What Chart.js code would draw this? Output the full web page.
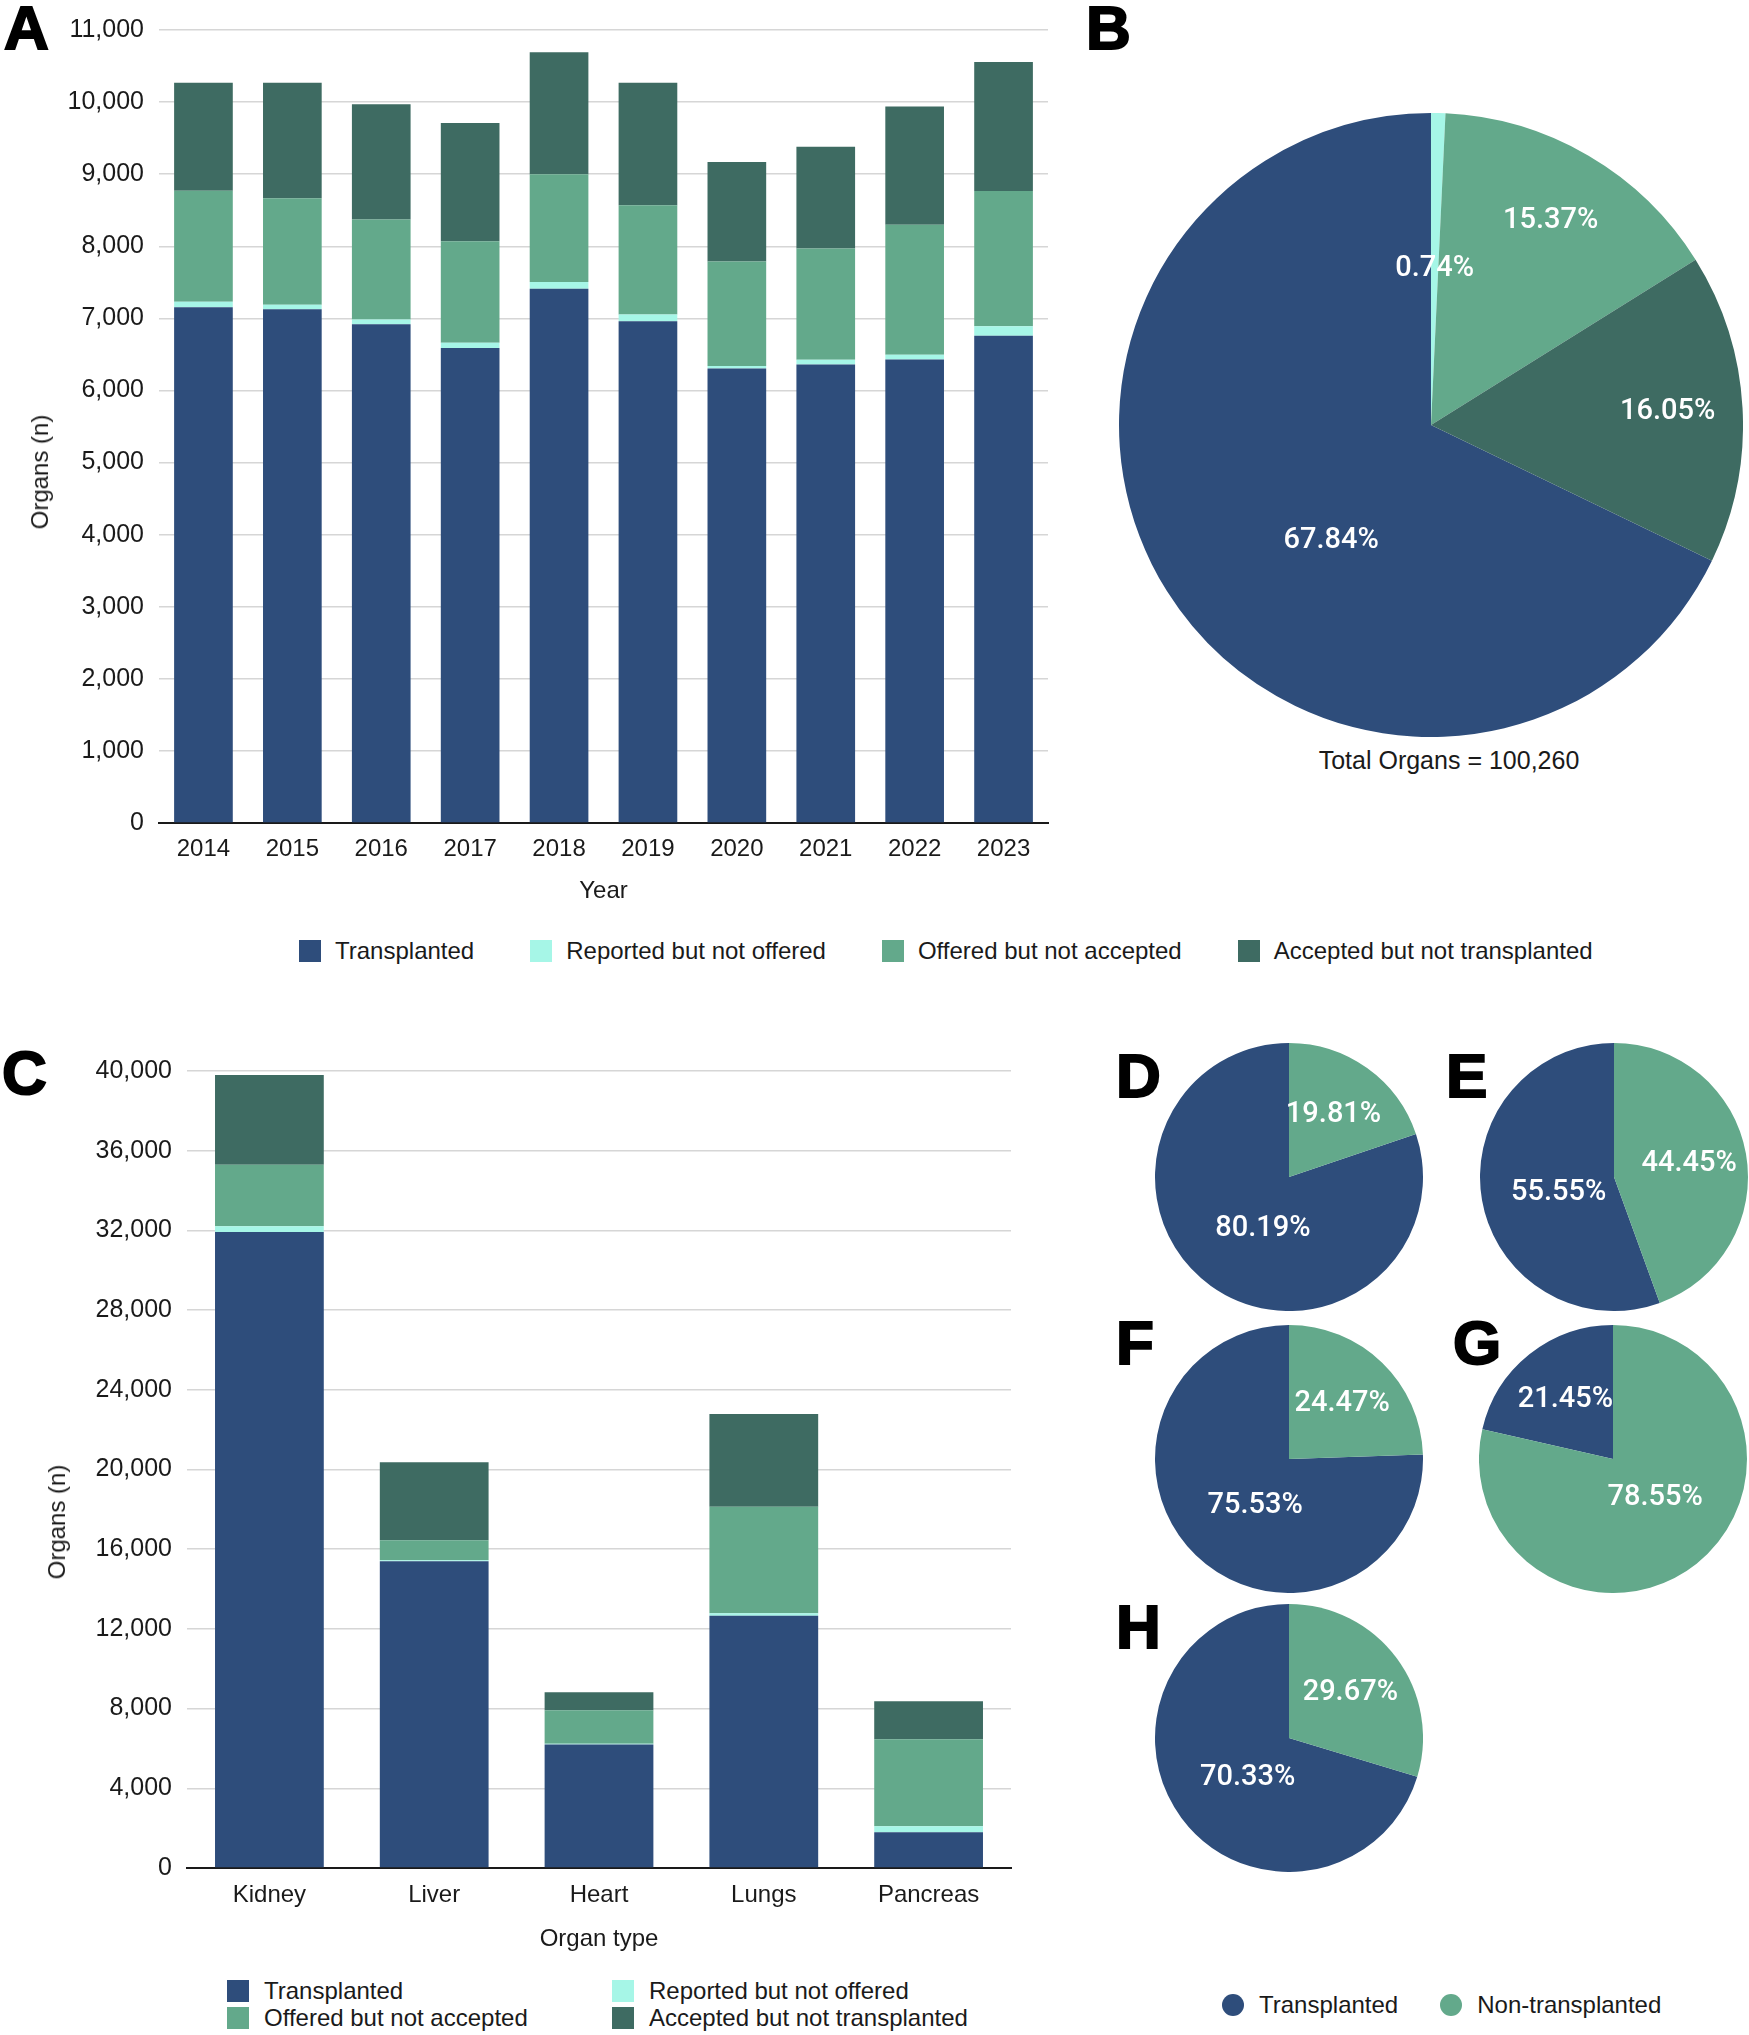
<!DOCTYPE html>
<html lang="en">
<head>
<meta charset="UTF-8">
<title>Organs reported, offered, accepted and transplanted</title>
<script src="https://cdn.jsdelivr.net/npm/chart.js"></script>
<style>
  body { margin: 0; background: #fff; font-family: "Liberation Sans", Arial, sans-serif; color: #1a1a1a; }
  #page { position: relative; width: 1749px; height: 2035px; overflow: hidden; }
  .box { position: absolute; }
  .letter { position: absolute; font-weight: bold; font-size: 62px; line-height: 1; color: #000; -webkit-text-stroke: 2px #000; }
  .ytitle { position: absolute; font-size: 24px; white-space: nowrap; transform: translate(-50%, -50%) rotate(-90deg); }
  .note { position: absolute; font-size: 25px; white-space: nowrap; transform: translate(-50%, -50%); }
  .legend { position: absolute; display: flex; align-items: center; font-size: 24px; }
  .legend .item { display: flex; align-items: center; }
  .sw { width: 22px; height: 22px; flex: none; }
  .dot { width: 22px; height: 22px; border-radius: 50%; flex: none; }
  #legC { position: absolute; display: grid; grid-template-columns: 385px auto; row-gap: 5px; font-size: 24px; line-height: 22px; }
  #legC .item { display: flex; align-items: center; }
</style>
</head>
<body>
<div id="page">
  <div class="letter" style="left:4px; top:-3px;">A</div>
  <div class="letter" style="left:1086px; top:-3px;">B</div>
  <div class="letter" style="left:2px; top:1042px;">C</div>
  <div class="letter" style="left:1116px; top:1045px;">D</div>
  <div class="letter" style="left:1446px; top:1045px;">E</div>
  <div class="letter" style="left:1116px; top:1312px;">F</div>
  <div class="letter" style="left:1453px; top:1312px;">G</div>
  <div class="letter" style="left:1116px; top:1596px;">H</div>

  <div class="box" style="left:0; top:0; width:1060px; height:910px;"><canvas id="chartA"></canvas></div>
  <div class="ytitle" style="left:40px; top:472px;">Organs (n)</div>

  <div class="legend" id="legA" style="left:299px; top:937px; gap:56px;"></div>

  <div class="box" style="left:1119px; top:113px; width:624px; height:624px;"><canvas id="chartB"></canvas></div>
  <div class="note" style="left:1449px; top:760px;">Total Organs = 100,260</div>

  <div class="box" style="left:0; top:1040px; width:1030px; height:918px;"><canvas id="chartC"></canvas></div>
  <div class="ytitle" style="left:57px; top:1522px;">Organs (n)</div>
  <div id="legC" style="left:227px; top:1980px;"></div>

  <div class="box" style="left:1155px; top:1043px; width:268px; height:268px;"><canvas id="pieD"></canvas></div>
  <div class="box" style="left:1480px; top:1043px; width:268px; height:268px;"><canvas id="pieE"></canvas></div>
  <div class="box" style="left:1155px; top:1325px; width:268px; height:268px;"><canvas id="pieF"></canvas></div>
  <div class="box" style="left:1479px; top:1325px; width:268px; height:268px;"><canvas id="pieG"></canvas></div>
  <div class="box" style="left:1155px; top:1604px; width:268px; height:268px;"><canvas id="pieH"></canvas></div>

  <div class="legend" id="legDH" style="left:1222px; top:1991px; gap:42px;"></div>
</div>

<script>
// categories
const statusNames = ['Transplanted', 'Reported but not offered', 'Offered but not accepted', 'Accepted but not transplanted'];
const statusColors = ['#2e4d7b', '#a6f6e7', '#63a98b', '#3e6b62'];

// A: organs per year, by status
const years = ['2014', '2015', '2016', '2017', '2018', '2019', '2020', '2021', '2022', '2023'];
const yearTransplanted = [7155, 7125, 6920, 6590, 7410, 6960, 6305, 6360, 6430, 6760];
const yearReported     = [75, 65, 65, 70, 95, 95, 35, 65, 65, 130];
const yearOffered      = [1540, 1475, 1385, 1410, 1495, 1515, 1450, 1545, 1805, 1875];
const yearAccepted     = [1500, 1605, 1600, 1640, 1690, 1700, 1380, 1410, 1640, 1790];

// B: share of all organs (%)
const totalShare = [67.84, 0.74, 15.37, 16.05];

// C: organs by organ type, by status
const organs = ['Kidney', 'Liver', 'Heart', 'Lungs', 'Pancreas'];
const organTransplanted = [31920, 15390, 6200, 12660, 1800];
const organReported     = [290, 60, 40, 130, 290];
const organOffered      = [3090, 995, 1676, 5340, 4378];
const organAccepted     = [4500, 3925, 901, 4654, 1899];

// D-H: transplanted vs non-transplanted (%)
const pieLabels = ['Transplanted', 'Non-transplanted'];
const pieColors = ['#2e4d7b', '#63a98b'];
const kidneyShare   = [80.19, 19.81];
const lungsShare    = [55.55, 44.45];
const liverShare    = [75.53, 24.47];
const pancreasShare = [21.45, 78.55];
const heartShare    = [70.33, 29.67];

const FONT = '"Liberation Sans", Arial, sans-serif';
Chart.defaults.font.family = FONT;
Chart.defaults.color = '#1a1a1a';
Chart.defaults.animation = false;

// legends
function fillLegend(el, names, colors, cls, gap) {
    names.forEach((n, i) => {
        const it = document.createElement('div');
        it.className = 'item';
        it.style.gap = gap + 'px';
        it.innerHTML = `<span class="${cls}" style="background:${colors[i]}"></span><span>${n}</span>`;
        el.appendChild(it);
    });
}
fillLegend(document.getElementById('legA'), statusNames, statusColors, 'sw', 14);
fillLegend(document.getElementById('legC'), statusNames, statusColors, 'sw', 15);
fillLegend(document.getElementById('legDH'), pieLabels, pieColors, 'dot', 15);

function stackedBars(id, labels, series, yMax, yStep, yAxisWidth, xAxisHeight, pad, xTitle, tickPad) {
    new Chart(document.getElementById(id), {
        type: 'bar',
        data: {
            labels: labels,
            datasets: series.map((d, i) => ({
                label: statusNames[i],
                data: d,
                backgroundColor: statusColors[i],
                borderWidth: 0,
                barPercentage: 0.66,
                categoryPercentage: 1
            }))
        },
        options: {
            responsive: true,
            maintainAspectRatio: false,
            events: [],
            layout: { padding: pad },
            plugins: { legend: { display: false }, tooltip: { enabled: false } },
            scales: {
                x: {
                    stacked: true,
                    grid: { display: false, drawTicks: false },
                    border: { display: true, color: '#1a1a1a', width: 2 },
                    ticks: { font: { size: 24 }, padding: tickPad, color: '#1a1a1a' },
                    title: { display: true, text: xTitle, font: { size: 24 }, color: '#1a1a1a', padding: { top: 0, bottom: 4 } },
                    afterFit: s => { s.height = xAxisHeight; }
                },
                y: {
                    stacked: true,
                    min: 0,
                    max: yMax,
                    grid: { color: '#d6d6d6', lineWidth: 1.5, drawTicks: false },
                    border: { display: false },
                    ticks: {
                        stepSize: yStep,
                        padding: 15,
                        font: { size: 25 },
                        color: '#1a1a1a',
                        callback: v => v.toLocaleString('en-US')
                    },
                    afterFit: s => { s.width = yAxisWidth; }
                }
            }
        }
    });
}

stackedBars('chartA', years, [yearTransplanted, yearReported, yearOffered, yearAccepted],
    11000, 1000, 159, 87, { top: 25, right: 12, left: 0, bottom: 0 }, 'Year', 12);
stackedBars('chartC', organs, [organTransplanted, organReported, organOffered, organAccepted],
    40000, 4000, 187, 90, { top: 31, right: 19, left: 0, bottom: 0 }, 'Organ type', 13);

// white percentage labels inside the slices
const sliceLabels = {
    id: 'sliceLabels',
    afterDatasetsDraw(chart, args, opts) {
        const ctx = chart.ctx;
        const ds = chart.data.datasets[0];
        const total = ds.data.reduce((a, b) => a + b, 0);
        chart.getDatasetMeta(0).data.forEach((arc, i) => {
            const share = ds.data[i] / total;
            const f = share < 0.02 ? opts.tiny : (share < 0.5 ? opts.small : opts.large);
            // large slices: label pulled a little towards the start of the slice
            const lean = share >= 0.5 ? opts.lean : 0;
            const mid = (arc.startAngle + arc.endAngle) / 2 - lean * (arc.endAngle - arc.startAngle);
            const x = arc.x + Math.cos(mid) * arc.outerRadius * f;
            const y = arc.y + Math.sin(mid) * arc.outerRadius * f;
            ctx.save();
            ctx.fillStyle = '#ffffff';
            ctx.font = opts.font;
            ctx.textAlign = 'center';
            ctx.textBaseline = 'middle';
            ctx.fillText(ds.data[i].toFixed(2) + '%', x, y);
            ctx.restore();
        });
    }
};

function pie(id, labels, values, colors, label) {
    const total = values.reduce((a, b) => a + b, 0);
    new Chart(document.getElementById(id), {
        type: 'pie',
        data: {
            labels: labels,
            datasets: [{ data: values, backgroundColor: colors, borderWidth: 0, hoverOffset: 0 }]
        },
        options: {
            responsive: true,
            maintainAspectRatio: false,
            events: [],
            // the first slice ends at 12 o'clock, the rest follow clockwise from the top
            rotation: -360 * values[0] / total,
            layout: { padding: 0 },
            plugins: { legend: { display: false }, tooltip: { enabled: false }, sliceLabels: label }
        },
        plugins: [sliceLabels]
    });
}

const bigLabel = { font: '500 29px Roboto, "Liberation Sans", sans-serif', tiny: 0.5, small: 0.76, large: 0.49, lean: 0.07 };
const smallLabel = { font: '500 29px Roboto, "Liberation Sans", sans-serif', tiny: 0.5, small: 0.57, large: 0.43, lean: 0.03 };

pie('chartB', statusNames, totalShare, statusColors, bigLabel);
pie('pieD', pieLabels, kidneyShare, pieColors, smallLabel);
pie('pieE', pieLabels, lungsShare, pieColors, smallLabel);
pie('pieF', pieLabels, liverShare, pieColors, smallLabel);
pie('pieG', pieLabels, pancreasShare, pieColors, smallLabel);
pie('pieH', pieLabels, heartShare, pieColors, smallLabel);
</script>
</body>
</html>
